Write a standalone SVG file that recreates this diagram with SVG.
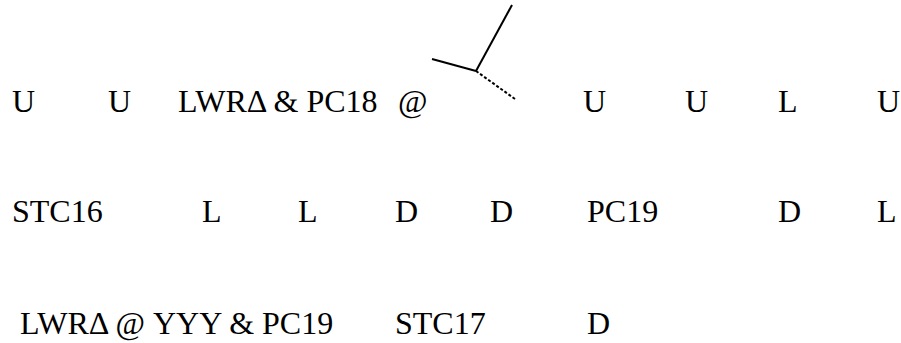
<svg xmlns="http://www.w3.org/2000/svg" width="901" height="343" viewBox="0 0 901 343">
<style>
text { font-family: "Liberation Serif", "Times New Roman", serif; font-size: 32px; fill: #000; }
.solid { stroke: #000; stroke-width: 2; fill: none; }
.dash { stroke: #000; stroke-width: 2; stroke-dasharray: 3 2; fill: none; }
</style>
<rect width="901" height="343" fill="#fff"/>
<g id="symbol">
<line class="solid" x1="432" y1="59" x2="476" y2="71"/>
<line class="solid" x1="476" y1="71" x2="512" y2="5"/>
<line class="dash" x1="476" y1="71" x2="515" y2="99"/>
</g>
<g id="row1">
<text x="12" y="112">U</text>
<text x="108" y="112">U</text>
<text x="178" y="112">LWRΔ &amp; PC18</text>
<text x="398" y="112">@</text>
<text x="583" y="112">U</text>
<text x="685" y="112">U</text>
<text x="778" y="112">L</text>
<text x="877" y="112">U</text>
</g>
<g id="row2">
<text x="12" y="222">STC16</text>
<text x="202" y="222">L</text>
<text x="298" y="222">L</text>
<text x="395" y="222">D</text>
<text x="490" y="222">D</text>
<text x="587" y="222">PC19</text>
<text x="778" y="222">D</text>
<text x="877" y="222">L</text>
</g>
<g id="row3">
<text x="20" y="334">LWRΔ @ YYY &amp; PC19</text>
<text x="395" y="334">STC17</text>
<text x="587" y="334">D</text>
</g>
</svg>
